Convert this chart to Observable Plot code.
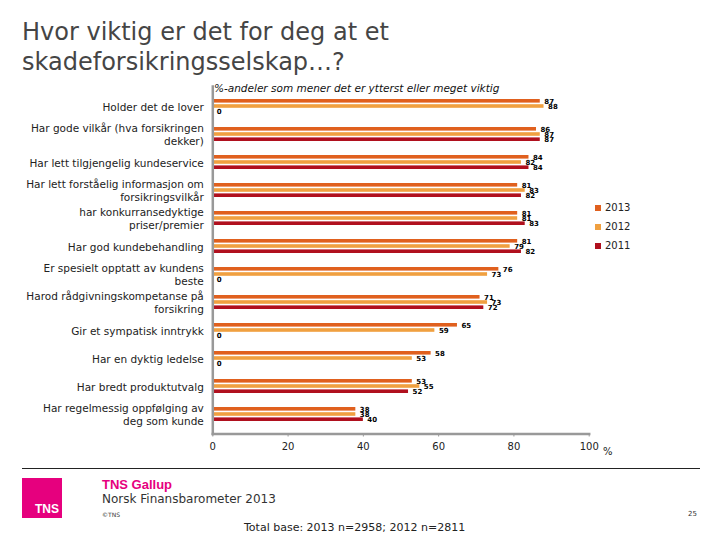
<!DOCTYPE html>
<html><head><meta charset="utf-8">
<script src="https://cdn.jsdelivr.net/npm/d3@7"></script>
<script src="https://cdn.jsdelivr.net/npm/@observablehq/plot@0.6"></script>
<style>
body{margin:0;background:#fff;font-family:"DejaVu Sans",Verdana,sans-serif;}
#wrap{position:relative;width:720px;height:540px;overflow:hidden;background:#fff;}
.abs{position:absolute;white-space:nowrap;}
#chart{position:absolute;left:0;top:0;z-index:2;}
#chart svg{background:transparent;overflow:visible;}
</style></head><body><div id="wrap">
<div class="abs" style="left:22px;top:17px;font-size:24px;line-height:30px;color:#454545;">Hvor viktig er det for deg at et<br>skadeforsikringsselskap…?</div>
<div class="abs" style="left:214px;top:82px;font-size:10.5px;line-height:12px;font-style:italic;color:#111;z-index:1;">%-andeler som mener det er ytterst eller meget viktig</div>
<div id="chart"></div>
<div id="legend"></div>
<div class="abs" style="left:603px;top:446px;font-size:10px;line-height:12px;color:#222;">%</div>
<div class="abs" style="left:22px;top:468px;width:678px;height:1px;background:#222;"></div>
<div class="abs" style="left:22px;top:478px;width:40px;height:40px;background:#E6007E;"><div class="abs" style="right:3px;bottom:3px;font-family:'Liberation Sans',Arial,sans-serif;font-weight:bold;font-size:12px;line-height:12px;color:#fff;">TNS</div></div>
<div class="abs" style="left:102px;top:477px;font-family:'Liberation Sans',Arial,sans-serif;font-weight:bold;font-size:13px;line-height:15px;color:#E6007E;">TNS Gallup</div>
<div class="abs" style="left:102px;top:492px;font-size:12px;line-height:14px;color:#333;">Norsk Finansbarometer 2013</div>
<div class="abs" style="left:102px;top:511px;font-size:6px;line-height:8px;color:#333;">©TNS</div>
<div class="abs" style="left:688px;top:510px;font-size:7px;line-height:9px;color:#333;">25</div>
<div class="abs" style="left:244px;top:521px;font-size:11px;line-height:13px;color:#222;">Total base: 2013 n=2958; 2012 n=2811</div>
</div>
<script>
const categories = [
  "Holder det de lover",
  "Har gode vilkår (hva forsikringen\ndekker)",
  "Har lett tilgjengelig kundeservice",
  "Har lett forståelig informasjon om\nforsikringsvilkår",
  "har konkurransedyktige\npriser/premier",
  "Har god kundebehandling",
  "Er spesielt opptatt av kundens\nbeste",
  "Harod rådgivningskompetanse på\nforsikring",
  "Gir et sympatisk inntrykk",
  "Har en dyktig ledelse",
  "Har bredt produktutvalg",
  "Har regelmessig oppfølging av\ndeg som kunde"
];
const years = ["2013", "2012", "2011"];
const v2013 = [87, 86, 84, 81, 81, 81, 76, 71, 65, 58, 53, 38];
const v2012 = [88, 87, 82, 83, 81, 79, 73, 73, 59, 53, 55, 38];
const v2011 = [0, 87, 84, 82, 83, 82, 0, 72, 0, 0, 52, 40];
const xTicks = [0, 20, 40, 60, 80, 100];

const colors = {"2013": "#E0601E", "2012": "#F0A040", "2011": "#B0101E"};
const offsets = {"2013": -5.2, "2012": 0, "2011": 5.2};
const series = {"2013": v2013, "2012": v2012, "2011": v2011};

const marks = [];
for (const yr of years) {
  const rows = categories.map((c, i) => ({cat: c, value: series[yr][i], year: yr}));
  marks.push(Plot.barX(rows, {x: "value", y: "cat", fill: colors[yr], insetTop: 12.2, insetBottom: 12.2, dy: offsets[yr]}));
}
for (const yr of years) {
  const rows = categories.map((c, i) => ({cat: c, value: series[yr][i], year: yr}));
  marks.push(Plot.text(rows, {x: "value", y: "cat", text: d => String(d.value), dx: 4, dy: offsets[yr] + 0.5, textAnchor: "start", fontSize: 7, fill: "#000", fontWeight: "bold"}));
}
marks.push(Plot.text(categories, {y: d => d, text: d => d, frameAnchor: "left", dx: -9, textAnchor: "end", lineHeight: 1.22, fontSize: 10.5, fill: "#222", ariaLabel: "ylabels"}));
marks.push(Plot.frame({anchor: "left", stroke: "#999", strokeWidth: 2.5}));
marks.push(Plot.frame({anchor: "bottom", stroke: "#999", strokeWidth: 2.5}));
marks.push(Plot.axisX({ticks: xTicks, tickSize: 3, tickPadding: 6, stroke: "#999", fill: "#222", fontSize: 10, label: null, tickFormat: d => String(d)}));

const chart = Plot.plot({
  width: 720,
  height: 540,
  marginLeft: 212.3,
  marginRight: 131.3,
  marginTop: 86,
  marginBottom: 106.5,
  style: {fontFamily: "'DejaVu Sans', Verdana, sans-serif", background: "transparent"},
  x: {domain: [0, 100], axis: null, label: null},
  y: {domain: categories, padding: 0, axis: null},
  marks
});
document.getElementById("chart").appendChild(chart);

// centre continuation lines under the first line, like the original text boxes
chart.querySelectorAll('g[aria-label="ylabels"] text').forEach(t => {
  const spans = t.querySelectorAll("tspan");
  if (spans.length > 1) {
    let w = 0;
    spans.forEach(s => { w = Math.max(w, s.getComputedTextLength()); });
    t.setAttribute("text-anchor", "middle");
    spans.forEach(s => s.setAttribute("x", -w / 2));
  }
});

const legend = document.getElementById("legend");
years.forEach((yr, i) => {
  const top = 202 + i * 19;
  legend.insertAdjacentHTML("beforeend",
    `<div class="abs" style="left:595px;top:${top + 3}px;width:6px;height:6px;background:${colors[yr]};"></div>` +
    `<div class="abs" style="left:605px;top:${top}px;font-size:10px;line-height:12px;color:#222;">${yr}</div>`);
});
</script>
</body></html>
